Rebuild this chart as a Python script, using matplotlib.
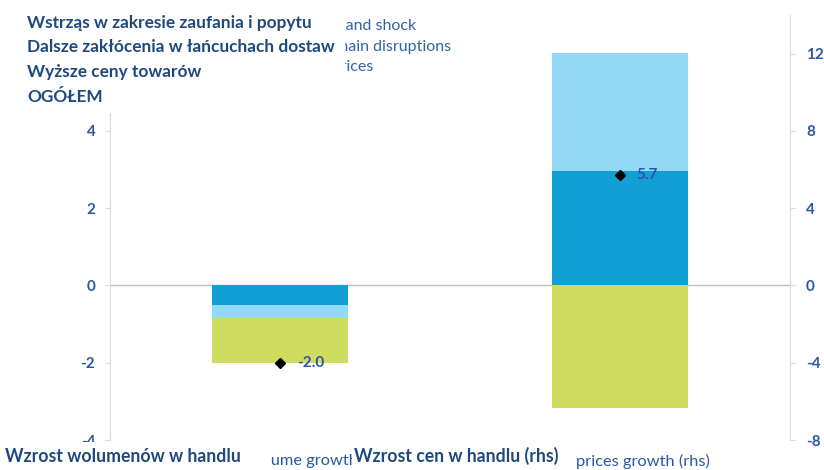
import matplotlib
matplotlib.use("Agg")
import matplotlib.pyplot as plt
from matplotlib.patches import Rectangle

plt.rcParams['font.family'] = ['Lato', 'DejaVu Sans']
plt.rcParams['axes.unicode_minus'] = False

# stacked contributions (volume on left axis, prices on right axis)
categories = ['Trade volume growth', 'Trade prices growth (rhs)']
demand_shock = [-1.17, -6.35]
supply_chain = [-0.33, 6.15]
commodity_prices = [-0.5, 5.9]
total = [-2.0, 5.7]

legend_en = ['Confidence and demand shock', 'Further supply chain disruptions',
             'Higher commodity prices']
legend_pl = ['Wstrząs w zakresie zaufania i popytu', 'Dalsze zakłócenia w łańcuchach dostaw',
             'Wyższe ceny towarów', 'OGÓŁEM']
labels_pl = ['Wzrost wolumenów w handlu', 'Wzrost cen w handlu (rhs)']

left_ticks = [-4, -2, 0, 2, 4, 6]
right_ticks = [-8, -4, 0, 4, 8, 12]

c_dark = '#12A0D4'
c_light = '#94D8F8'
c_green = '#CEDD60'
c_tick = '#2B55A6'
c_pl = '#1F497D'
c_grid = '#D9D9D9'

W, H = 824, 470
fig = plt.figure(figsize=(W / 100, H / 100), dpi=100)
ax = fig.add_axes([110 / W, 1 - 440 / H, 680 / W, 425 / H])
ax2 = ax.twinx()


def px(x, y):
    return x / W, 1 - y / H


def stack(axis, i):
    width = 0.4
    pos, neg = 0.0, 0.0
    for vals, col in [(commodity_prices, c_dark), (supply_chain, c_light), (demand_shock, c_green)]:
        v = vals[i]
        if v >= 0:
            axis.bar(i, v, width, bottom=pos, color=col, zorder=2)
            pos += v
        else:
            axis.bar(i, v, width, bottom=neg, color=col, zorder=2)
            neg += v
    axis.plot(i, total[i], marker='D', color='black', markersize=5, zorder=4)
    axis.annotate(f'{total[i]:.1f}', (i, total[i]), xytext=(12, 0), textcoords='offset points',
                  va='center', ha='left', color=c_tick, fontsize=11, fontweight='bold', zorder=4)


stack(ax, 0)
stack(ax2, 1)

ax.set_xlim(-0.5, 1.5)
ax.set_ylim(-4, 7)
ax2.set_ylim(-8, 14)
ax.set_yticks(left_ticks)
ax2.set_yticks(right_ticks)
ax.axhline(0, color='#BFBFBF', linewidth=1, zorder=1)

ax.set_xticks([0, 1])
ax.set_xticklabels(categories, color=c_tick, fontsize=11.8)
ax.tick_params(axis='x', length=0, pad=10)

for a, side, pad in [(ax, 'left', 7), (ax2, 'right', 8)]:
    for s in ['top', 'bottom', 'left', 'right']:
        a.spines[s].set_visible(s == side)
    a.spines[side].set_color(c_grid)
    a.tick_params(axis='y', colors=c_grid, length=3.6, labelcolor=c_tick, labelsize=11, pad=pad)
    for lab in a.get_yticklabels():
        lab.set_fontweight('bold')

# original English legend, partly hidden under the Polish captions
for txt, xr, y in zip(legend_en, [416, 451, 373], [26, 47, 67]):
    fig.text(*px(xr, y), txt, ha='right', va='center', color='#3461A8', fontsize=11.5)

# white covers for the Polish captions
for x0, y0, x1, y1 in [(0, 5, 345, 113), (0, 442, 270, 470), (352, 442, 577, 470)]:
    fig.patches.append(Rectangle(px(x0, y1), (x1 - x0) / W, (y1 - y0) / H,
                                 transform=fig.transFigure, facecolor='white',
                                 edgecolor='none', zorder=5))

for txt, y in zip(legend_pl, [23, 47, 72, 97]):
    fig.text(*px(27, y), txt, ha='left', va='center', color=c_pl, fontsize=12.4,
             fontweight='bold', zorder=6)

for txt, x in zip(labels_pl, [5, 354]):
    fig.text(*px(x, 456), txt, ha='left', va='center', color=c_pl, fontsize=12.7,
             fontweight='bold', zorder=6)

fig.savefig('out.png', dpi=100)
